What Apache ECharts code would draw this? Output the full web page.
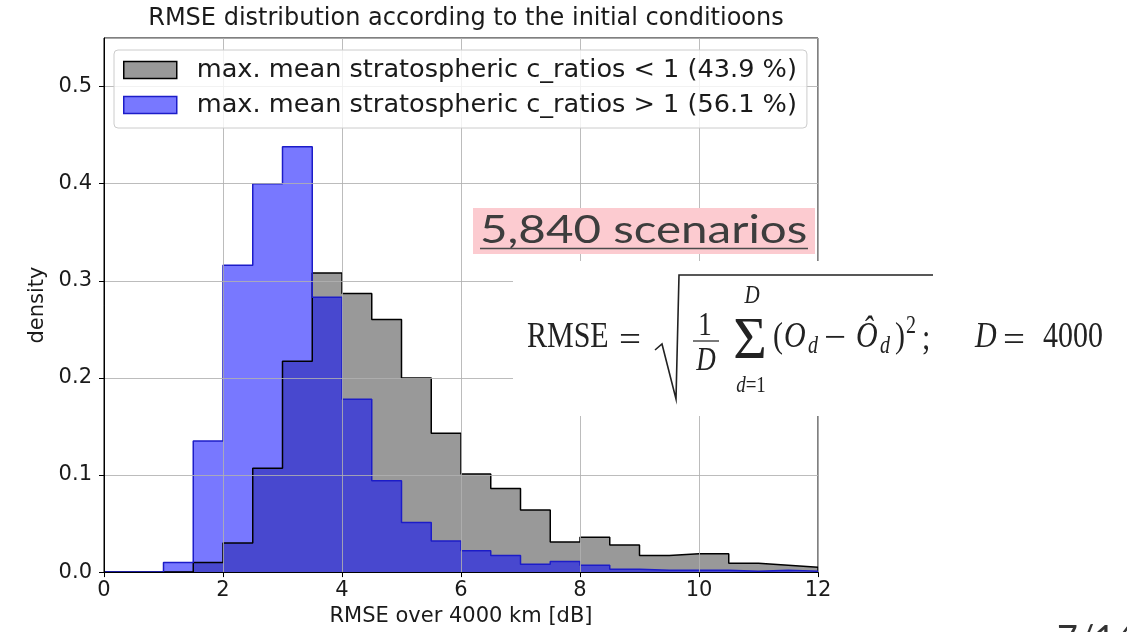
<!DOCTYPE html>
<html>
<head>
<meta charset="utf-8">
<script src="https://cdn.jsdelivr.net/npm/echarts@6/dist/echarts.min.js"></script>
<style>
  html, body { margin: 0; padding: 0; background: #ffffff; }
  #chart { width: 1127px; height: 632px; }
</style>
</head>
<body>
<div id="chart"></div>
<script>
// Histogram bin edges (RMSE, dB)
const binEdges = [0, 0.5, 1, 1.5, 2, 2.5, 3, 3.5, 4, 4.5, 5, 5.5, 6, 6.5, 7, 7.5, 8, 8.5, 9, 9.5, 10, 10.5, 11, 11.5, 12];

// Density per bin, c_ratios < 1
const densityBelow = [0, 0, 0, 0.010, 0.030, 0.107, 0.217, 0.308, 0.287, 0.260, 0.200, 0.143,
                      0.101, 0.086, 0.064, 0.031, 0.036, 0.028, 0.017, 0.019, 0.019, 0.009, 0.007, 0.005];

// Density per bin, c_ratios > 1
const densityAbove = [0, 0, 0.010, 0.135, 0.316, 0.400, 0.438, 0.283, 0.178, 0.094, 0.051, 0.032,
                      0.022, 0.017, 0.008, 0.011, 0.007, 0.003, 0.002, 0.002, 0.002, 0.001, 0.002, 0.001];

const seriesNames = [
  'max. mean stratospheric c_ratios < 1 (43.9 %)',
  'max. mean stratospheric c_ratios > 1 (56.1 %)'
];

const chartTitle = 'RMSE distribution according to the initial conditioons';
const xAxisTitle = 'RMSE over 4000 km [dB]';
const yAxisTitle = 'density';
const scenarioNote = '5,840 scenarios';
const pageNumber = '7/14';

// Turn per-bin densities into step vertices (value holds until the next edge)
function stepPoints(values) {
  const pts = values.map((v, i) => [binEdges[i], v]);
  const last = values.length;
  pts.push([binEdges[last], values[last - 1]]);
  pts.push([binEdges[last], 0]);
  return pts;
}

const SANS = "'DejaVu Sans', sans-serif";
const SERIF = "'Liberation Serif', 'DejaVu Serif', serif";
const INK = '#1a1a1a';

// Pieces of the RMSE formula
function fx(text, x, y, size, extra) {
  return Object.assign({
    type: 'text', x: x, y: y, z: 120, scaleY: 1.22,
    style: Object.assign({
      text: text, fontFamily: SERIF, fontSize: size, fill: '#222',
      verticalAlign: 'middle', align: 'left'
    }, (extra && extra.style) || {})
  }, extra && extra.el ? extra.el : {});
}
const italic = { style: { fontStyle: 'italic' } };

const formula = [
  fx('RMSE', 527, 337, 30),
  fx('=', 619, 341, 30, { el: { scaleX: 1.3 } }),
  { type: 'polyline', z: 120, shape: { points: [[655, 350], [662, 344], [676, 399], [679, 275], [933, 275]] },
    style: { stroke: '#222', lineWidth: 1.6, fill: null } },
  fx('1', 705, 326, 27, { style: { align: 'center' } }),
  { type: 'line', z: 120, shape: { x1: 693, y1: 341, x2: 719, y2: 341 }, style: { stroke: '#222', lineWidth: 1.2 } },
  fx('D', 706, 361, 27, { style: { align: 'center', fontStyle: 'italic' } }),
  fx('Σ', 750, 342, 48, { style: { align: 'center' }, el: { scaleX: 1.2, scaleY: 1.25 } }),
  fx('D', 752, 296, 21, { style: { align: 'center', fontStyle: 'italic' } }),
  fx('{i|d}=1', 751, 386, 19, { style: { align: 'center', rich: { i: { fontStyle: 'italic', fontFamily: SERIF, fontSize: 19, fill: '#222' } } } }),
  fx('(', 773, 337, 30),
  fx('O', 784, 337, 30, italic),
  fx('d', 808, 347, 20, italic),
  fx('−', 824, 339, 30, { el: { scaleX: 1.3 } }),
  fx('Ô', 856, 337, 30, italic),
  fx('d', 880, 347, 20, italic),
  fx(')', 895, 337, 30),
  fx('2', 906, 327, 20),
  fx(';', 922, 339, 30),
  fx('D', 975, 337, 30, italic),
  fx('=', 1003, 341, 30, { el: { scaleX: 1.3 } }),
  fx('4000', 1043, 337, 30)
];

const chart = echarts.init(document.getElementById('chart'), null, { renderer: 'canvas' });

chart.setOption({
  animation: false,
  backgroundColor: '#ffffff',
  title: {
    text: chartTitle,
    left: 461, top: 2, textAlign: 'center',
    textStyle: { fontFamily: SANS, fontSize: 24, fontWeight: 'normal', color: INK }
  },
  grid: {
    left: 104, right: 309, top: 38, bottom: 59,
    show: true, borderColor: '#000', borderWidth: 1, backgroundColor: 'transparent'
  },
  legend: {
    orient: 'vertical', left: 114, top: 50,
    padding: [5, 10, 8, 9], itemGap: 5,
    itemWidth: 53, itemHeight: 17,
    backgroundColor: 'rgba(255,255,255,0.8)', borderColor: '#cccccc', borderWidth: 1, borderRadius: 4,
    textStyle: { fontFamily: SANS, fontSize: 25.6, color: INK, lineHeight: 30, padding: [0, 0, 0, 15] },
    data: [
      { name: seriesNames[0], icon: 'rect', itemStyle: { color: '#999999', borderColor: '#000000', borderWidth: 1.5 } },
      { name: seriesNames[1], icon: 'rect', itemStyle: { color: '#7878ff', borderColor: '#1c1cc8', borderWidth: 1.5 } }
    ]
  },
  xAxis: {
    type: 'value', min: 0, max: 12, interval: 2, z: 3,
    name: xAxisTitle, nameLocation: 'middle', nameGap: 28,
    nameTextStyle: { fontFamily: SANS, fontSize: 21, color: INK },
    axisLine: { show: true, onZero: false, lineStyle: { color: '#000', width: 1 } },
    axisTick: { show: true, length: 5, lineStyle: { color: '#000', width: 1 } },
    axisLabel: { fontFamily: SANS, fontSize: 21, color: INK, margin: 8 },
    splitLine: { show: true, lineStyle: { color: 'rgba(176,176,176,0.85)', width: 1 } }
  },
  yAxis: {
    type: 'value', min: 0, max: 0.55, interval: 0.1, z: 3,
    name: yAxisTitle, nameLocation: 'middle', nameGap: 56,
    nameTextStyle: { fontFamily: SANS, fontSize: 21, color: INK },
    axisLine: { show: true, lineStyle: { color: '#000', width: 1 } },
    axisTick: { show: true, length: 5, lineStyle: { color: '#000', width: 1 } },
    axisLabel: { fontFamily: SANS, fontSize: 21, color: INK, margin: 12, showMaxLabel: false,
                 formatter: v => v.toFixed(1) },
    splitLine: { show: true, lineStyle: { color: 'rgba(176,176,176,0.85)', width: 1 } }
  },
  series: [
    {
      name: seriesNames[0], type: 'line', step: 'end', symbol: 'none', z: 2,
      data: stepPoints(densityBelow),
      lineStyle: { color: '#000000', width: 1.5 },
      itemStyle: { color: '#999999', borderColor: '#000000' },
      areaStyle: { color: '#999999', opacity: 1 }
    },
    {
      name: seriesNames[1], type: 'line', step: 'end', symbol: 'none', z: 2,
      data: stepPoints(densityAbove),
      lineStyle: { color: '#1c1cc8', width: 1.5 },
      itemStyle: { color: '#7878ff', borderColor: '#1c1cc8' },
      areaStyle: { color: 'rgba(0,0,255,0.53)', opacity: 1 }
    }
  ],
  graphic: [
    { type: 'rect', z: 100, shape: { x: 473, y: 208, width: 342, height: 46 }, style: { fill: '#fccbd0' } },
    { type: 'text', z: 110, x: 480, y: 231, scaleX: 1.25,
      style: { text: scenarioNote, fontFamily: "Lato, 'Open Sans', sans-serif", fontSize: 38, fill: '#3d3d3d',
               verticalAlign: 'middle', align: 'left' } },
    { type: 'line', z: 110, shape: { x1: 480, y1: 248.5, x2: 808, y2: 248.5 }, style: { stroke: '#4a4a4a', lineWidth: 1.5 } },
    { type: 'rect', z: 100, shape: { x: 513, y: 261, width: 614, height: 155 }, style: { fill: '#ffffff' } },
    ...formula,
    { type: 'text', z: 110, x: 1057, y: 639,
      style: { text: pageNumber, fontFamily: "Lato, 'Open Sans', sans-serif", fontSize: 36, fill: '#333333',
               verticalAlign: 'middle', align: 'left' } }
  ]
});
</script>
</body>
</html>
